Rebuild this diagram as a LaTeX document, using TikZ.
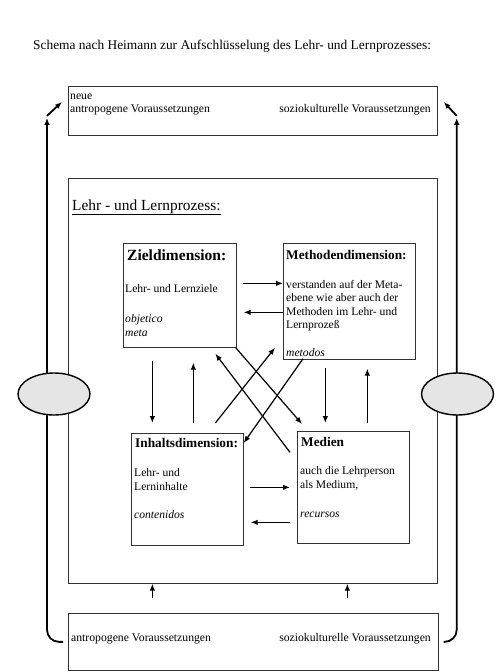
\documentclass[tikz,border=0pt]{standalone}
\usepackage{fontspec}
\setmainfont{Liberation Serif}
\usetikzlibrary{arrows.meta,calc,shapes.geometric}
\tikzset{
  >={Latex[length=7pt,width=5.5pt]},
  frame/.style ={draw=black!80, line width=0.7pt, anchor=north west, inner sep=0pt},
  txt/.style   ={inner sep=0pt, anchor=base west, align=left, font=\fontsize{11.6}{13.5}\selectfont},
  head/.style  ={inner sep=0pt, anchor=base west, font=\bfseries\fontsize{13.3}{15}\selectfont},
  arr/.style   ={->, line width=1.2pt},
  side/.style  ={line width=1.8pt},
  oval/.style  ={ellipse, draw, line width=1.4pt, fill=black!10, minimum width=72pt, minimum height=42pt},
}

\begin{document}
\begin{tikzpicture}[x=1pt, y=-1pt]
  \useasboundingbox (0,0) rectangle (500,672);

  \node[txt, font=\fontsize{13.4}{16}\selectfont] (titel) at (33,49) {Schema nach Heimann zur Aufschlüsselung des Lehr- und Lernprozesses:};

  % aeussere Rahmen
  \node[frame, minimum width=369pt, minimum height=49pt] (neu) at (68,86) {};
  \node[frame, minimum width=369pt, minimum height=405pt] (proz) at (68,178) {};
  \node[frame, minimum width=370pt, minimum height=57pt] (basis) at (68,613) {};

  % mehrzeilige Texte stehen auf der Grundlinie ihrer letzten Zeile
  \node[txt, font=\fontsize{11.7}{13}\selectfont] (neuanthro) at (70,112) {neue\\antropogene Voraussetzungen};
  \node[txt, font=\fontsize{11.7}{13}\selectfont, anchor=base east] (neusozio) at (431,112) {soziokulturelle Voraussetzungen};
  \node[txt, font=\fontsize{11.7}{13}\selectfont] (anthro) at (71,641) {antropogene Voraussetzungen};
  \node[txt, font=\fontsize{11.7}{13}\selectfont, anchor=base east] (sozio) at (431,641) {soziokulturelle Voraussetzungen};

  \node[txt, font=\fontsize{15.4}{18}\selectfont] (prozlabel) at (72,210) {\underline{Lehr - und Lernprozess:}};

  % die vier Dimensionen
  \node[frame, minimum width=113pt, minimum height=104pt] (ziel) at (123,243) {};
  \node[frame, minimum width=132pt, minimum height=116pt] (methoden) at (283,243) {};
  \node[frame, minimum width=112pt, minimum height=112pt] (inhalt) at (131,433) {};
  \node[frame, minimum width=112pt, minimum height=112pt] (medien) at (297,431) {};

  \node[head, font=\bfseries\fontsize{15.5}{17}\selectfont] (zielkopf) at (127,260) {Zieldimension:};
  \node[txt] (zieltext) at (125,336) {Lehr- und Lernziele\\[16.5pt]\textit{objetico}\\\textit{meta}};
  \node[head] (methkopf) at (286,259) {Methodendimension:};
  \node[txt] (methtext) at (286,356) {verstanden auf der Meta-\\ebene wie aber auch der\\Methoden im Lehr- und\\Lernprozeß\\[14pt]\textit{metodos}};
  \node[head] (inhaltkopf) at (135,447) {Inhaltsdimension:};
  \node[txt] (inhalttext) at (134,518) {Lehr- und\\Lerninhalte\\[14.5pt]\textit{contenidos}};
  \node[head] (medienkopf) at (301,446) {Medien};
  \node[txt] (medientext) at (300,517) {auch die Lehrperson\\als Medium,\\[15.5pt]\textit{recursos}};

  % Pfeile zwischen den Dimensionen
  \draw[arr] ($(ziel.east)+(6,-12)$) -- ($(methoden.west)+(0,-18)$);
  \draw[arr] ($(methoden.west)+(0,11)$) -- ($(ziel.east)+(7,17)$);
  \draw[arr] ($(inhalt.east)+(6,-2)$) -- ($(medien.west)+(-7,0)$);
  \draw[arr] ($(medien.west)+(-7,35)$) -- ($(inhalt.east)+(7,33)$);

  \draw[arr] ($(ziel.south)+(-27.5,13)$) -- ($(inhalt.north)+(-35,-10)$);
  \draw[arr] ($(inhalt.north)+(6,-10)$) -- ($(ziel.south)+(13.5,15)$);
  \draw[arr] ($(methoden.south)+(-24,8)$) -- ($(medien.north)+(-28,-8)$);
  \draw[arr] ($(medien.north)+(14,-8)$) -- ($(methoden.south)+(18,9)$);

  \draw[arr] ($(ziel.south east)+(-1,0)$) -- ($(medien.north west)+(5,-7)$);
  \draw[arr] ($(medien.west)+(-7,-35)$) -- ($(ziel.south)+(35.5,6)$);
  \draw[arr] ($(inhalt.north)+(28,-10)$) -- ($(methoden.south west)+(-8,-12)$);
  \draw[arr] ($(methoden.south west)+(20,-1)$) -- ($(inhalt.north east)+(0,10)$);

  % Voraussetzungen von unten
  \draw[arr] ($(basis.north)+(-101,-15)$) -- ($(proz.south)+(-100.5,0)$);
  \draw[arr] ($(basis.north)+(94,-15)$) -- ($(proz.south)+(94.5,0)$);

  % Rueckkopplung an den Seiten
  \draw[side, ->, rounded corners=12pt] ($(basis.west)+(-5,0)$) -| ($(neu.west)+(-21,7)$);
  \draw[side, ->] ($(neu.west)+(-21,5)$) -- ($(neu.west)+(-6,-9)$);
  \draw[side, ->, rounded corners=12pt] ($(basis.east)+(5,0)$) -| ($(neu.east)+(19,7)$);
  \draw[side, ->] ($(neu.east)+(19,5)$) -- ($(neu.east)+(6,-9)$);

  \node[oval] (ovlinks) at (54,394) {};
  \node[oval] (ovrechts) at (457.5,394) {};
\end{tikzpicture}
\end{document}
